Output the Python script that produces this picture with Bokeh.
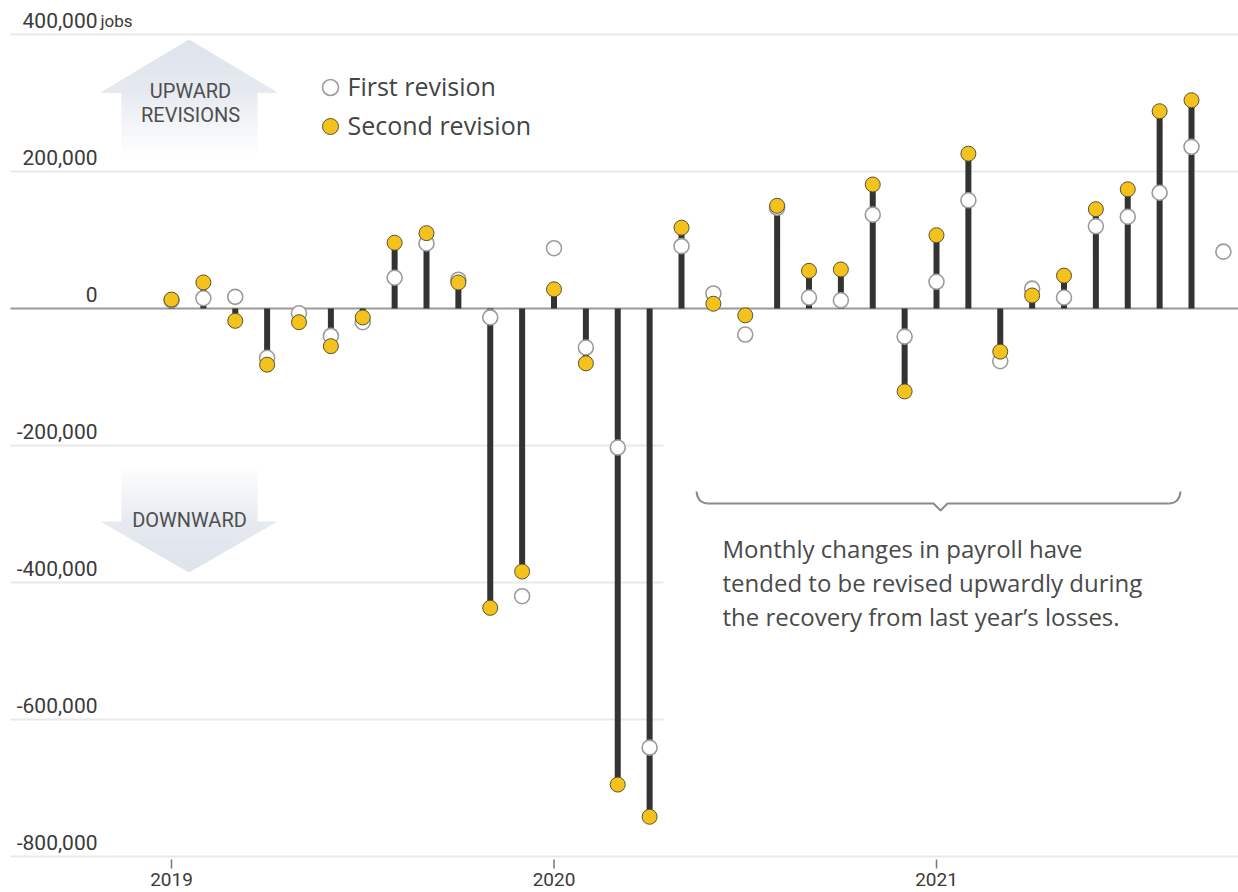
from bokeh.plotting import figure
from bokeh.models import Range1d
from bokeh.core.properties import value
from bokeh.embed import file_html
from bokeh.resources import INLINE

# ---------------- data ----------------
months = ["2019-01", "2019-02", "2019-03", "2019-04", "2019-05", "2019-06",
          "2019-07", "2019-08", "2019-09", "2019-10", "2019-11", "2019-12",
          "2020-01", "2020-02", "2020-03", "2020-04", "2020-05", "2020-06",
          "2020-07", "2020-08", "2020-09", "2020-10", "2020-11", "2020-12",
          "2021-01", "2021-02", "2021-03", "2021-04", "2021-05", "2021-06",
          "2021-07", "2021-08", "2021-09", "2021-10"]

first_revision = [12000, 15000, 17000, -72000, -7000, -40000, -20000, 45000,
                  95000, 42000, -13000, -420000,
                  88000, -57000, -203000, -641000, 91000, 22000, -38000, 147000,
                  16000, 12000, 137000, -41000,
                  39000, 158000, -77000, 29000, 16000, 120000, 134000, 169000,
                  236000, 83000]

second_revision = [13000, 38000, -18000, -82000, -20000, -55000, -13000, 96000,
                   110000, 38000, -437000, -384000,
                   28000, -80000, -695000, -742000, 118000, 7000, -10000, 150000,
                   55000, 57000, 181000, -121000,
                   107000, 226000, -63000, 19000, 48000, 145000, 174000, 288000,
                   304000, None]

year_labels = ["2019", "2020", "2021"]
year_months = ["2019-01", "2020-01", "2021-01"]

y_ticks = [400000, 200000, 0, -200000, -400000, -600000, -800000]
y_tick_labels = ["400,000", "200,000", "0", "-200,000", "-400,000", "-600,000", "-800,000"]
y_unit = "jobs"

legend_labels = ["First revision", "Second revision"]
arrow_labels_up = ["UPWARD", "REVISIONS"]
arrow_label_down = "DOWNWARD"
note_lines = ["Monthly changes in payroll have",
              "tended to be revised upwardly during",
              "the recovery from last year\u2019s losses."]

# ---------------- layout helpers (picture pixels -> data) ----------------
W, H = 1238, 890
X0_PX = 171.0
PX_PER_MONTH = 31.875
Y0_PX = 308.0
PX_PER_JOB = 137.0 / 200000.0


def fx(px):
    return (px - X0_PX) / PX_PER_MONTH


def fy(py):
    return (Y0_PX - py) / PX_PER_JOB


idx = list(range(len(months)))
month_pos = {m: i for i, m in enumerate(months)}

p = figure(width=W, height=H, output_backend="svg", toolbar_location=None,
           x_range=Range1d(fx(0), fx(W)), y_range=Range1d(fy(H), fy(0)),
           x_axis_location=None, y_axis_location=None,
           min_border=0, min_border_left=0, min_border_right=0,
           min_border_top=0, min_border_bottom=0)
p.xgrid.visible = False
p.ygrid.visible = False
p.outline_line_color = None
p.background_fill_color = "white"
p.border_fill_color = "white"

COND = "Roboto"
NORM = "Open Sans"

# ---------------- arrows (gradient strips) ----------------
def lerp(c0, c1, t):
    return "#%02x%02x%02x" % tuple(int(round(a + (b - a) * t)) for a, b in zip(c0, c1))

xs_all, ys_all, cols = [], [], []
cx, hw_head = 188.5, 88.5
sx0, sx1 = 121.0, 257.0
top_c = (221, 227, 236)
mid_c = (230, 234, 240)
white = (253, 253, 254)

# up arrow: apex 39, base 92, shaft to 152
apex, base, bottom = 39.0, 92.0, 152.0
N = 24
for k in range(N):
    a = apex + (base - apex) * k / N
    b = min(apex + (base - apex) * (k + 1) / N + 0.6, base + 0.6)
    ha = hw_head * (a - apex) / (base - apex)
    hb = hw_head * (min(b, base) - apex) / (base - apex)
    xs_all.append([fx(cx - ha), fx(cx + ha), fx(cx + hb), fx(cx - hb)])
    ys_all.append([fy(a), fy(a), fy(b), fy(b)])
    cols.append(lerp(top_c, mid_c, (k + 0.5) / N))
N = 30
for k in range(N):
    a = base + (bottom - base) * k / N
    b = base + (bottom - base) * (k + 1) / N + 0.6
    xs_all.append([fx(sx0), fx(sx1), fx(sx1), fx(sx0)])
    ys_all.append([fy(a), fy(a), fy(b), fy(b)])
    cols.append(lerp(mid_c, white, ((k + 0.5) / N) ** 0.9))

# down arrow: shaft 466..521, head 521..572
s_top, h_base, d_apex = 466.0, 521.0, 572.0
N = 30
for k in range(N):
    a = s_top + (h_base - s_top) * k / N
    b = s_top + (h_base - s_top) * (k + 1) / N + 0.6
    xs_all.append([fx(sx0), fx(sx1), fx(sx1), fx(sx0)])
    ys_all.append([fy(a), fy(a), fy(b), fy(b)])
    cols.append(lerp(white, mid_c, ((k + 0.5) / N) ** 1.1))
N = 24
for k in range(N):
    a = h_base + (d_apex - h_base) * k / N
    b = min(h_base + (d_apex - h_base) * (k + 1) / N + 0.6, d_apex)
    ha = hw_head * (d_apex - a) / (d_apex - h_base)
    hb = hw_head * (d_apex - b) / (d_apex - h_base)
    xs_all.append([fx(cx - ha), fx(cx + ha), fx(cx + hb), fx(cx - hb)])
    ys_all.append([fy(a), fy(a), fy(b), fy(b)])
    cols.append(lerp(mid_c, top_c, (k + 0.5) / N))

p.patches(xs_all, ys_all, fill_color=cols, line_color=None)

p.text([fx(190)] * 2, [fy(90), fy(114)], text=arrow_labels_up,
       text_font=value(COND), text_font_size="20px", text_color="#4f4f4f",
       text_align="center", text_baseline="middle")
p.text([fx(189)], [fy(519)], text=[arrow_label_down],
       text_font=value(COND), text_font_size="20px", text_color="#4f4f4f",
       text_align="center", text_baseline="middle")

# ---------------- gridlines ----------------
grid_vals = [v for v in y_ticks if v != 0]
short_vals = {-200000, -400000, -600000}
gx0 = [fx(10)] * len(grid_vals)
gx1 = [fx(663) if v in short_vals else fx(W) for v in grid_vals]
p.segment(gx0, grid_vals, gx1, grid_vals, line_color="#e9e9e9", line_width=2)

# y labels
p.text([fx(97)] * len(y_ticks), [v + 14 / PX_PER_JOB for v in y_ticks], text=y_tick_labels,
       text_font=value(COND), text_font_size="21px", text_color="#3a3a3a",
       text_align="right", text_baseline="alphabetic")
p.text([fx(100)], [y_ticks[0] + 14 / PX_PER_JOB], text=[y_unit],
       text_font=value(COND), text_font_size="17px", text_color="#3a3a3a",
       text_align="left", text_baseline="alphabetic")

# year ticks & labels
yx = [month_pos[m] for m in year_months]
p.segment(yx, [fy(859)] * 3, yx, [fy(868)] * 3, line_color="#777777", line_width=1.5)
p.text(yx, [fy(879)] * 3, text=year_labels,
       text_font=value(COND), text_font_size="19px", text_color="#3a3a3a",
       text_align="center", text_baseline="middle")

# zero line
p.segment([fx(10)], [0], [fx(W)], [0], line_color="#9a9a9a", line_width=2)

# ---------------- stems & dots ----------------
stem_x = [i for i in idx if second_revision[i] is not None]
stem_y = [second_revision[i] for i in stem_x]
p.segment(stem_x, [0] * len(stem_x), stem_x, stem_y, line_color="#333333", line_width=6)

p.scatter(idx, first_revision, size=15, marker="circle", fill_color="white",
          line_color="#9b9b9b", line_width=1.6)
p.scatter(stem_x, stem_y, size=15, marker="circle", fill_color="#f3c21c",
          line_color="#5a5230", line_width=1.0)

# ---------------- legend ----------------
p.scatter([fx(330)], [fy(87)], size=16, marker="circle", fill_color="white",
          line_color="#9b9b9b", line_width=1.6)
p.scatter([fx(330)], [fy(126)], size=16, marker="circle", fill_color="#f3c21c",
          line_color="#5a5230", line_width=1.0)
p.text([fx(347)] * 2, [fy(85), fy(124)], text=legend_labels,
       text_font=value(NORM), text_font_size="25px", text_color="#444444",
       text_align="left", text_baseline="middle")

# ---------------- brace & note ----------------
bc = "#8a8a8a"
p.quadratic(x0=[fx(696)], y0=[fy(491)], x1=[fx(708)], y1=[fy(503)],
            cx=[fx(697)], cy=[fy(503)], line_color=bc, line_width=2)
p.line([fx(708), fx(933), fx(940), fx(947), fx(1168)],
       [fy(503), fy(503), fy(510), fy(503), fy(503)], line_color=bc, line_width=2)
p.quadratic(x0=[fx(1168)], y0=[fy(503)], x1=[fx(1180)], y1=[fy(491)],
            cx=[fx(1179)], cy=[fy(503)], line_color=bc, line_width=2)

p.text([fx(722)] * 3, [fy(548), fy(582), fy(616)], text=note_lines,
       text_font=value(NORM), text_font_size="24px", text_color="#4a4a4a",
       text_align="left", text_baseline="alphabetic")

open("out.html", "w").write(file_html(p, INLINE))
